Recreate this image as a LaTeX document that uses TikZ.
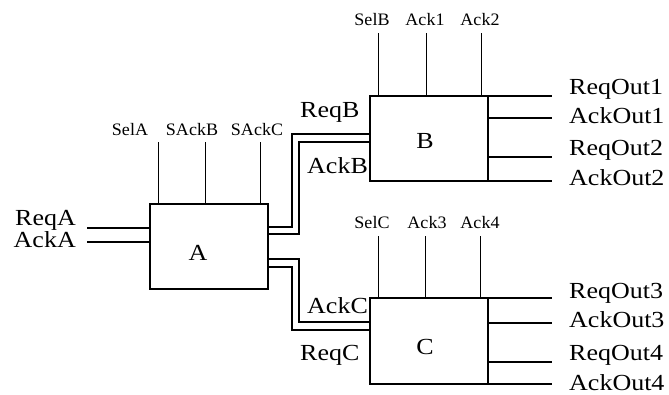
\documentclass[tikz,border=0pt]{standalone}
\usepackage{fontspec}
\setmainfont{Liberation Serif}
\newfontfamily\bigf[FakeStretch=1.13]{Liberation Serif}
\newfontfamily\smallf[FakeStretch=1.03]{Liberation Serif}
\begin{document}
\begin{tikzpicture}[x=1pt,y=-1pt,
  box/.style={draw, line width=1.3pt, minimum width=118pt, minimum height=85pt, inner sep=0pt, outer sep=0pt},
  wire/.style={line width=1.3pt},
  pinw/.style={line width=0.9pt},
  big/.style={inner sep=0pt, font=\bigf\fontsize{23}{24}\selectfont},
  small/.style={inner sep=0pt, font=\smallf\fontsize{17.5}{19}\selectfont}]
\useasboundingbox (0,0) rectangle (669,394);
% boxes
\node[box] (A) at (209,246.5) {};
\node[box] (B) at (429,138.5) {};
\node[box, minimum height=86pt] (C) at (429,341) {};
\node[big] (Alab) at (198,253) {A};
\node[big] (Blab) at (425,141) {B};
\node[big] (Clab) at (425,347) {C};
% pins A
\coordinate (pa1) at (158,142); \coordinate (pa2) at (205,142); \coordinate (pa3) at (260,142);
\draw[pinw] (pa1) -- (pa1 |- A.north);
\draw[pinw] (pa2) -- (pa2 |- A.north);
\draw[pinw] (pa3) -- (pa3 |- A.north);
\node[small, anchor=base] (selA) at (130,135) {SelA};
\node[small, anchor=base] (sackB) at (192,135) {SAckB};
\node[small, anchor=base] (sackC) at (257,135) {SAckC};
% pins B
\coordinate (pb1) at (378,33); \coordinate (pb2) at (426,33); \coordinate (pb3) at (481,33);
\draw[pinw] (pb1) -- (pb1 |- B.north);
\draw[pinw] (pb2) -- (pb2 |- B.north);
\draw[pinw] (pb3) -- (pb3 |- B.north);
\node[small, anchor=base] (selB) at (372,25) {SelB};
\node[small, anchor=base] (ack1) at (425,25) {Ack1};
\node[small, anchor=base] (ack2) at (480,25) {Ack2};
% pins C
\coordinate (pc1) at (378,236); \coordinate (pc2) at (425,236); \coordinate (pc3) at (480,236);
\draw[pinw] (pc1) -- (pc1 |- C.north);
\draw[pinw] (pc2) -- (pc2 |- C.north);
\draw[pinw] (pc3) -- (pc3 |- C.north);
\node[small, anchor=base] (selC) at (372,228) {SelC};
\node[small, anchor=base] (ack3) at (427,228) {Ack3};
\node[small, anchor=base] (ack4) at (480,228) {Ack4};
% inputs of A
\coordinate (ra) at (87,228); \coordinate (aa) at (87,242);
\draw[wire] (ra) -- (ra -| A.west);
\draw[wire] (aa) -- (aa -| A.west);
\node[big, anchor=base east] (reqA) at (76,225) {ReqA};
\node[big, anchor=base east] (ackA) at (76,247.5) {AckA};
% A to B
\draw[wire] (A.east |- 0,227) -- (292,227) -- (292,134) -- (B.west |- 0,134);
\draw[wire] (A.east |- 0,234) -- (299,234) -- (299,142) -- (B.west |- 0,142);
\node[big, anchor=base west] (reqB) at (300,117) {ReqB};
\node[big, anchor=base west] (ackB) at (307,173) {AckB};
% A to C
\draw[wire] (A.east |- 0,259) -- (299,259) -- (299,322) -- (C.west |- 0,322);
\draw[wire] (A.east |- 0,267) -- (292,267) -- (292,330) -- (C.west |- 0,330);
\node[big, anchor=base west] (ackC) at (307,313) {AckC};
\node[big, anchor=base west] (reqC) at (300,360) {ReqC};
% outputs B
\coordinate (ob1) at (552,96); \coordinate (ob2) at (552,118);
\coordinate (ob3) at (552,157); \coordinate (ob4) at (552,181);
\draw[wire] (B.north east) -- (ob1);
\draw[wire] (ob2 -| B.east) -- (ob2);
\draw[wire] (ob3 -| B.east) -- (ob3);
\draw[wire] (B.south east) -- (ob4);
\node[big, anchor=base west] (ro1) at (569,94) {ReqOut1};
\node[big, anchor=base west] (ao1) at (569,123) {AckOut1};
\node[big, anchor=base west] (ro2) at (569,155) {ReqOut2};
\node[big, anchor=base west] (ao2) at (569,185) {AckOut2};
% outputs C
\coordinate (oc1) at (552,298); \coordinate (oc2) at (552,323);
\coordinate (oc3) at (552,362); \coordinate (oc4) at (552,384);
\draw[wire] (C.north east) -- (oc1);
\draw[wire] (oc2 -| C.east) -- (oc2);
\draw[wire] (oc3 -| C.east) -- (oc3);
\draw[wire] (C.south east) -- (oc4);
\node[big, anchor=base west] (ro3) at (569,298) {ReqOut3};
\node[big, anchor=base west] (ao3) at (569,327) {AckOut3};
\node[big, anchor=base west] (ro4) at (569,360) {ReqOut4};
\node[big, anchor=base west] (ao4) at (569,390) {AckOut4};
\end{tikzpicture}
\end{document}
